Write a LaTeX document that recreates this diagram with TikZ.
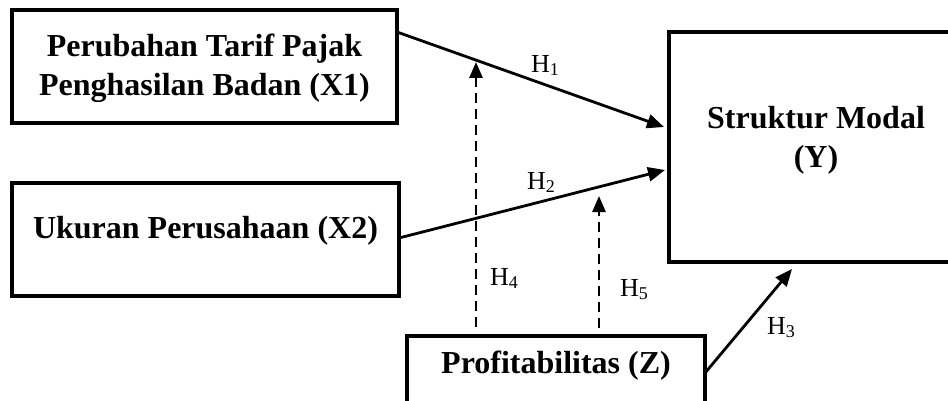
\documentclass[tikz,border=0pt]{standalone}
\usepackage{fontspec}
\setmainfont{Liberation Serif}
\usetikzlibrary{arrows.meta}
\newcommand\hsub[1]{\raisebox{-3pt}{\fontsize{18}{18}\selectfont #1}}
\begin{document}
\begin{tikzpicture}[x=1pt,y=-1pt,
  box/.style={draw, line width=3.4pt, rectangle, inner sep=0pt, outer sep=0pt},
  lbl/.style={font=\bfseries\fontsize{32}{39}\selectfont, inner sep=0pt, align=center},
  hl/.style={font=\fontsize{26}{26}\selectfont, inner sep=0pt},
  arr/.style={line width=2.8pt, -{Triangle[length=17pt,width=14pt]}},
  dsh/.style={line width=2.8pt, dash pattern=on 10pt off 6pt, -{Triangle[length=16pt,width=13pt]}}]
\useasboundingbox (0,0) rectangle (948,401);
\clip (0,0) rectangle (948,401);
% boxes
\node[box, minimum width=385pt, minimum height=113pt] (x1) at (204.5,66.5) {};
\node[box, minimum width=387pt, minimum height=113pt] (x2) at (205.5,239.5) {};
\node[box, minimum width=300pt, minimum height=230pt] (y) at (819,147) {};
\node[box, minimum width=298pt, minimum height=90pt] (z) at (556,381) {};
% texts
\node[lbl] (x1t) at (204.5,68) {Perubahan Tarif Pajak\\Penghasilan Badan (X1)};
\node[lbl] (x2t) at (205.5,231) {Ukuran Perusahaan (X2)};
\node[lbl] (yt) at (816,140) {Struktur Modal\\(Y)};
\node[lbl] (zt) at (556,366) {Profitabilitas (Z)};
% connectors
\draw[arr] ([yshift=-22pt]x1.north east) -- ([xshift=-5pt,yshift=-95pt]y.north west);
\draw[arr] ([yshift=-55pt]x2.north east) -- ([xshift=-4pt,yshift=-138pt]y.north west);
\draw[arr] ([yshift=-37pt]z.north east) -- ([xshift=123pt,yshift=-7pt]y.south west);
\coordinate (h4top) at (476,62);
\coordinate (h5top) at (599,196);
\draw[dsh] ([xshift=69pt,yshift=9pt]z.north west) -- (h4top);
\draw[dsh] ([xshift=192pt,yshift=8pt]z.north west) -- (h5top);
% labels
\node[hl] (h1) at (545,65) {H\hsub{1}};
\node[hl] (h2) at (541,182) {H\hsub{2}};
\node[hl] (h3) at (781,328) {H\hsub{3}};
\node[hl] (h4) at (504,278) {H\hsub{4}};
\node[hl] (h5) at (634,290) {H\hsub{5}};
\end{tikzpicture}
\end{document}
